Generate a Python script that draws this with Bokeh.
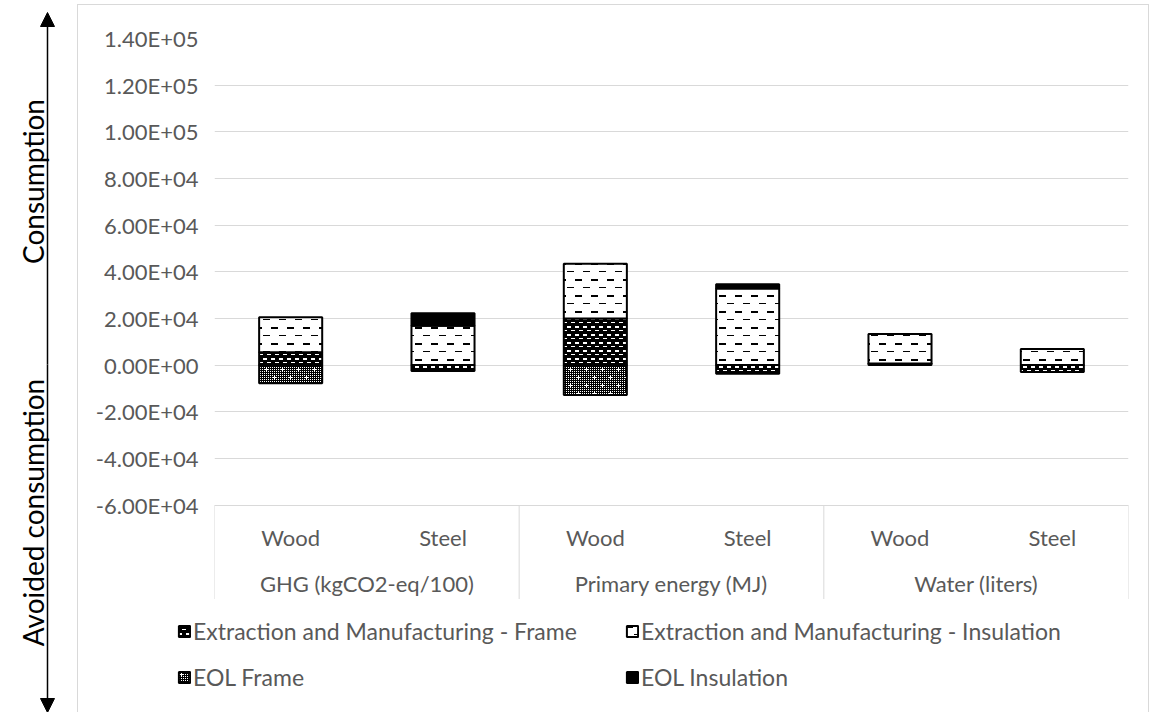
import math
import base64
import numpy as np
from bokeh.plotting import figure
from bokeh.layouts import row, column
from bokeh.models import (ColumnDataSource, FactorRange, Range1d, FixedTicker,
                          CustomJSTickFormatter, Legend, LegendItem, ImageURLTexture,
                          Arrow, NormalHead)
from bokeh.core.properties import value
from bokeh.embed import file_html
from bokeh.resources import INLINE

# ---- data -------------------------------------------------------------
impacts = ["GHG (kgCO2-eq/100)", "Primary energy (MJ)", "Water (liters)"]
materials = ["Wood", "Steel"]
series = ["Extraction and Manufacturing - Frame",
          "Extraction and Manufacturing - Insulation",
          "EOL Frame",
          "EOL Insulation"]

# one value per (impact, material): GHG-Wood, GHG-Steel, PE-Wood, PE-Steel, Water-Wood, Water-Steel
em_frame = [5500, -2500, 20000, -3700, 700, -2900]
em_insulation = [15000, 16900, 23500, 32800, 12600, 6900]
eol_frame = [-7800, 0, -12800, 0, 0, 0]
eol_insulation = [0, 5300, 0, 1900, 0, 0]

y_ticks = [-60000, -40000, -20000, 0, 20000, 40000, 60000, 80000, 100000, 120000, 140000]

FONT = "Lato"
GREY_TEXT = "#595959"
GRID = "#D9D9D9"
AXIS_FS = "22px"
LEGEND_FS = "23px"

factors = [(imp, mat) for imp in impacts for mat in materials]


# ---- fill textures (small tiled SVG images) --------------------------
def tile(size, rects, color):
    body = "".join(f'<rect x="{x}" y="{y}" width="{w}" height="{h}" fill="{color}"/>'
                   for x, y, w, h in rects)
    svg = (f'<svg xmlns="http://www.w3.org/2000/svg" width="{size}" height="{size}" '
           f'shape-rendering="crispEdges">{body}</svg>')
    return ImageURLTexture(url="data:image/svg+xml;base64," +
                           base64.b64encode(svg.encode()).decode())


tex_insulation = tile(16, [(1, 2, 7, 2), (9, 10, 7, 1)], "#000000")
tex_frame = tile(8, [(1, 1, 4, 2), (5, 5, 3, 1), (0, 5, 1, 1)], "#FFFFFF")
checker = [(x, y, 1, 1) for y in range(0, 16, 2) for x in range(0, 16, 2)]
checker += [(3, 4, 3, 1), (4, 3, 1, 3), (11, 12, 3, 1), (12, 11, 1, 3)]
tex_checker = tile(16, checker, "#FFFFFF")

styles = [
    dict(fill_color="black", hatch_pattern=value("frame"), hatch_extra={"frame": tex_frame}),
    dict(fill_color="white", hatch_pattern=value("ins"), hatch_extra={"ins": tex_insulation}),
    dict(fill_color="black", hatch_pattern=value("chk"), hatch_extra={"chk": tex_checker}),
    dict(fill_color="black"),
]
bar_line = dict(line_color="black", line_width=2)

# ---- main chart -------------------------------------------------------
FIG_W, FIG_H = 1070, 594
BL, BR, BT, BB = 136, 20, 33, 0            # borders around the frame
frame_h = FIG_H - BT - BB
span_px = 466.6                            # pixels between -6E4 and 1.4E5
units_per_px = (y_ticks[-1] - y_ticks[0]) / span_px
y_top = y_ticks[-1]
y_bottom = y_top - frame_h * units_per_px

x_range = FactorRange(*factors, factor_padding=0, group_padding=0, range_padding=0)
p = figure(width=FIG_W, height=FIG_H, x_range=x_range,
           y_range=Range1d(y_bottom, y_top),
           toolbar_location=None, output_backend="svg",
           min_border_left=BL, min_border_right=BR, min_border_top=BT, min_border_bottom=BB,
           outline_line_color=None, background_fill_color="white", border_fill_color="white")
p.frame_align = False

p.xaxis.visible = False
p.xgrid.visible = False
p.yaxis.ticker = FixedTicker(ticks=y_ticks)
p.ygrid.ticker = FixedTicker(ticks=y_ticks)
p.ygrid.grid_line_color = GRID
p.ygrid.grid_line_width = 1
p.yaxis.axis_line_color = None
p.yaxis.major_tick_line_color = None
p.yaxis.minor_tick_line_color = None
p.yaxis.major_label_standoff = 10
p.yaxis.major_label_text_font = FONT
p.yaxis.major_label_text_font_size = AXIS_FS
p.yaxis.major_label_text_color = GREY_TEXT
p.yaxis.formatter = CustomJSTickFormatter(code="""
const s = tick.toExponential(2).toUpperCase();
const i = s.indexOf("E");
const d = s.slice(i + 2);
return s.slice(0, i) + "E" + s[i + 1] + (d.length < 2 ? "0" + d : d);
""")

# stacked bars: positives build upward, negatives downward, in series order
values = np.array([em_frame, em_insulation, eol_frame, eol_insulation], dtype=float)
pos_base = np.zeros(len(factors))
neg_base = np.zeros(len(factors))
bar_w = 0.414
for k, name in enumerate(series):
    vals = values[k]
    bottoms, tops, xs = [], [], []
    for j, v in enumerate(vals):
        if v > 0:
            bottoms.append(pos_base[j]); tops.append(pos_base[j] + v); pos_base[j] += v
        elif v < 0:
            tops.append(neg_base[j]); bottoms.append(neg_base[j] + v); neg_base[j] += v
        else:
            continue
        xs.append(factors[j])
    src = ColumnDataSource(dict(x=xs, bottom=bottoms, top=tops))
    p.vbar(x="x", width=bar_w, bottom="bottom", top="top", source=src,
           **bar_line, **styles[k])

# category box below the value axis
n_sub = len(materials)
bounds = [i * n_sub for i in range(len(impacts) + 1)]
p.segment(x0=bounds, y0=[y_ticks[0]] * len(bounds), x1=bounds, y1=[y_bottom] * len(bounds),
          line_color=GRID, line_width=1)

p.text(x=factors, y=[y_ticks[0] - 32 * units_per_px] * len(factors),
       text=[m for _, m in factors], text_align="center", text_baseline="middle",
       text_font=value(FONT), text_font_size=AXIS_FS, text_color=GREY_TEXT)
p.text(x=impacts, y=[y_ticks[0] - 78 * units_per_px] * len(impacts),
       text=impacts, text_align="center", text_baseline="middle",
       text_font=value(FONT), text_font_size=AXIS_FS, text_color=GREY_TEXT)

# ---- legend strip -----------------------------------------------------
LEG_H = 114
leg = figure(width=FIG_W, height=LEG_H, x_range=Range1d(0, 1), y_range=Range1d(0, 1),
             toolbar_location=None, output_backend="svg", min_border=0,
             outline_line_color=None)
leg.frame_align = False
leg.axis.visible = False
leg.grid.visible = False
# swatch renderers sit outside the visible range; only their legend icons show
leg_r = [leg.vbar(x=[-10], top=[-10], width=0.1, **bar_line, **styles[k])
         for k in range(len(series))]

def make_legend(idx, loc):
    lg = Legend(items=[LegendItem(label=series[i], renderers=[leg_r[i]]) for i in idx],
                location=loc, orientation="horizontal", padding=0, margin=0, spacing=7,
                border_line_color=None, background_fill_alpha=0,
                glyph_width=14, glyph_height=14, label_standoff=2, label_width=425,
                label_text_font=FONT, label_text_font_size=LEGEND_FS,
                label_text_color=GREY_TEXT)
    leg.add_layout(lg, "center")

make_legend([0, 1], (99, 68))
make_legend([2, 3], (99, 22))

right = column(p, leg)
right.margin = (4, 4, 0, 0)
right.styles = {"border-top": "1px solid #D9D9D9", "border-left": "1px solid #D9D9D9",
                "border-right": "1px solid #D9D9D9"}

# ---- side arrows ------------------------------------------------------
side = figure(width=77, height=712, x_range=Range1d(0, 77), y_range=Range1d(712, 0),
              toolbar_location=None, output_backend="svg", min_border=0,
              outline_line_color=None)
side.frame_align = False
side.axis.visible = False
side.grid.visible = False
side.add_layout(Arrow(end=NormalHead(size=14, fill_color="black", line_color="black"),
                      x_start=47, y_start=364, x_end=47, y_end=12,
                      line_color="black", line_width=1.5))
side.add_layout(Arrow(end=NormalHead(size=14, fill_color="black", line_color="black"),
                      x_start=47, y_start=364, x_end=47, y_end=712,
                      line_color="black", line_width=1.5))
side.text(x=[32, 32], y=[181, 512], text=["Consumption", "Avoided consumption"],
          angle=math.pi / 2, text_align="center", text_baseline="middle",
          text_font=value(FONT), text_font_size="28px", text_color="black")

layout = row(side, right)
open("out.html", "w").write(file_html(layout, INLINE))
